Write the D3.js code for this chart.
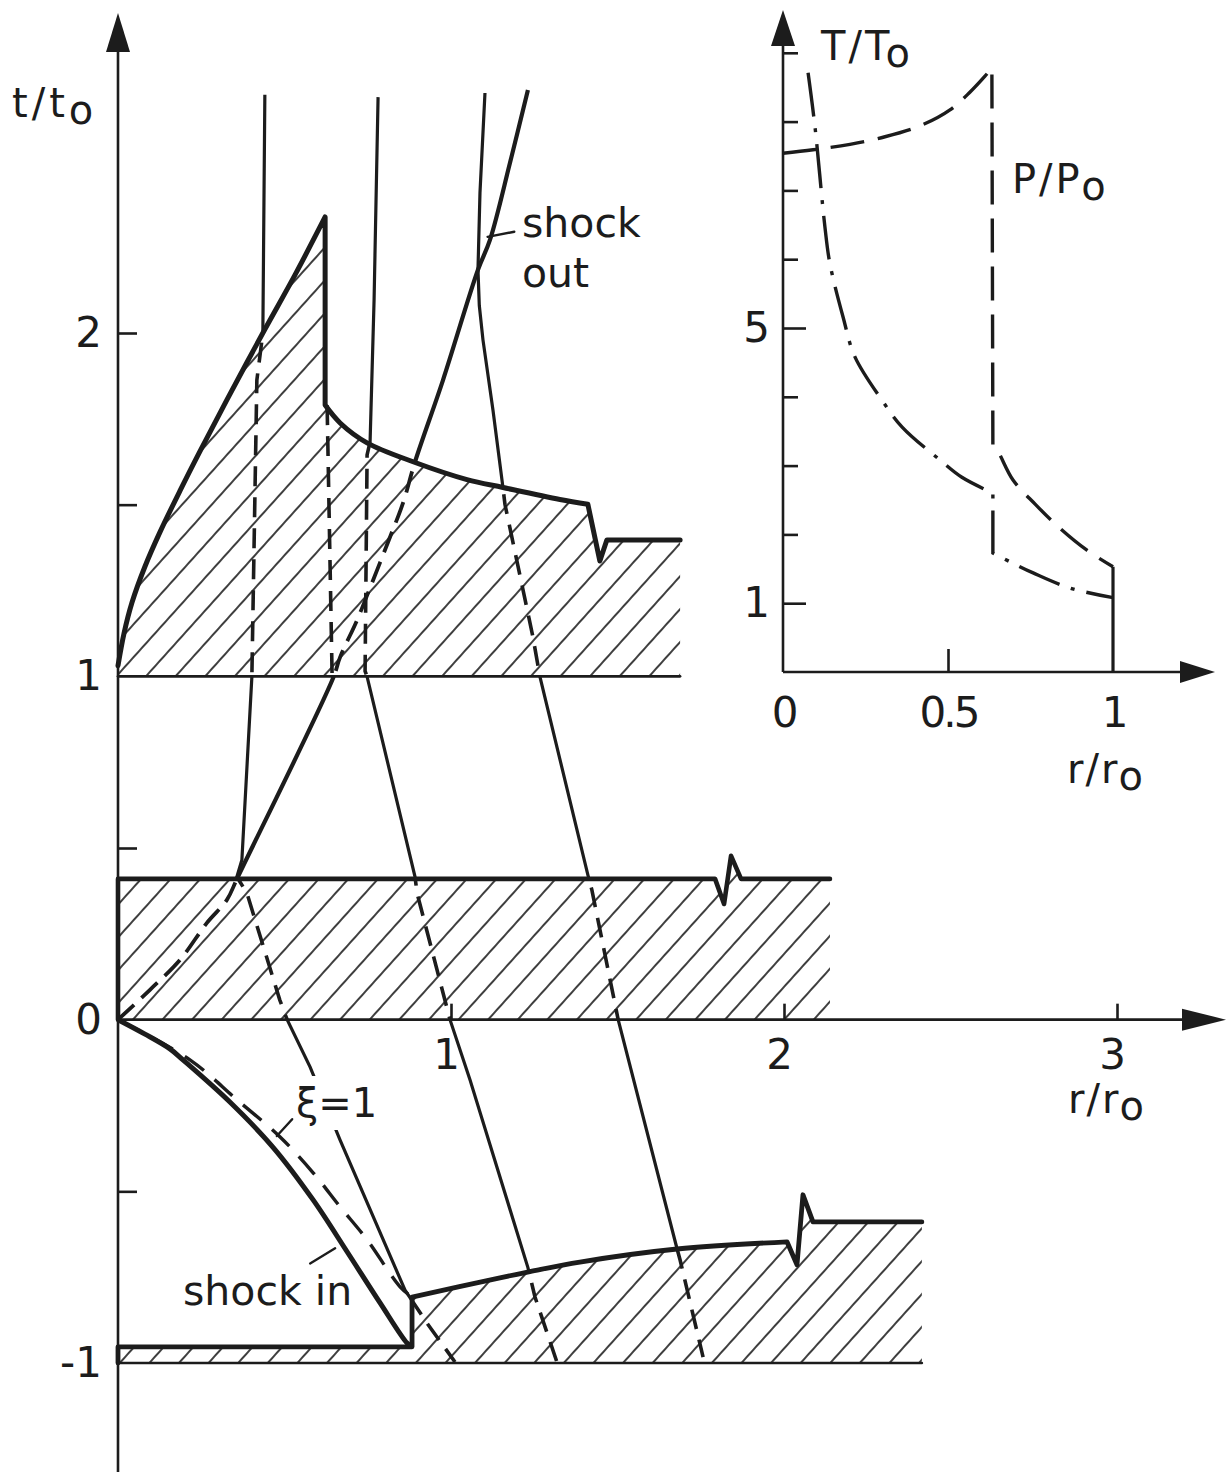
<!DOCTYPE html>
<html>
<head>
<meta charset="utf-8">
<title>r-t diagram, shock in / shock out</title>
<script src="https://cdn.jsdelivr.net/npm/d3@7"></script>
<style>
  body { margin: 0; background: #fff; }
  svg text { font-family: "DejaVu Sans", sans-serif; fill: #1c1c1c; }
</style>
</head>
<body>
<div id="container"></div>
<script>
/* CONSTANTS */
const width = 1228, height = 1472, ink = "#1c1c1c";

/* DATA : main diagram, every point is [r/r0, t/t0] */

// upper hatched zone (above t/t0 = 1)
const upperRise = [[0,1.031],[0.018,1.125],[0.042,1.215],[0.081,1.32],[0.126,1.42],[0.186,1.54],[0.246,1.655],[0.327,1.805],[0.435,2.0],[0.532,2.17],[0.622,2.338]];
const upperFall = [[0.622,1.79],[0.667,1.738],[0.748,1.68],[0.886,1.625],[1.048,1.573],[1.156,1.55],[1.327,1.515],[1.411,1.501]];
const upperTail = [[1.411,1.501],[1.447,1.336],[1.468,1.397],[1.688,1.397]];
const upperBase = [[1.688,1.0],[0,1.0]];

// middle hatched zone (0 .. 0.41)
const midTop  = [[0,0],[0,0.41],[1.793,0.41],[1.82,0.337],[1.841,0.477],[1.871,0.41],[2.138,0.41]];
const midBase = [[2.138,0],[0,0]];

// lower hatched zone (around t/t0 = -1)
const lowerStep = [[0,-1],[0,-0.953],[0.883,-0.953],[0.883,-0.808]];
const lowerRise = [[0.883,-0.808],[1.147,-0.752],[1.237,-0.734],[1.387,-0.706],[1.679,-0.668],[2.009,-0.647]];
const lowerTail = [[2.009,-0.647],[2.039,-0.714],[2.057,-0.51],[2.087,-0.589],[2.414,-0.589]];
const lowerBase = [[2.414,-1],[0,-1]];

// shock lines
const shockIn  = [[0,0],[0.081,-0.042],[0.156,-0.085],[0.195,-0.117],[0.336,-0.24],[0.465,-0.371],[0.586,-0.525],[0.688,-0.676],[0.787,-0.825],[0.868,-0.942],[0.883,-0.953]];
const xiOne    = [[0,0],[0.216,-0.117],[0.357,-0.233],[0.486,-0.341],[0.586,-0.446],[0.667,-0.545],[0.748,-0.641],[0.847,-0.778],[0.883,-0.808]];
const shockOut = [[0,0],[0.096,0.087],[0.186,0.174],[0.267,0.282],[0.327,0.349],[0.36,0.416],[0.646,0.995],[0.667,1.056],[0.718,1.164],[0.766,1.28],[0.817,1.406],[0.856,1.505],[0.892,1.625],[0.976,1.863],[1.081,2.184],[1.117,2.271],[1.177,2.495],[1.231,2.708]];

// particle paths (solid outside the hatching, dashed inside)
const pathA = [[0.441,2.694],[0.435,2.0],[0.417,1.863],[0.402,0.998],[0.372,0.465],[0.357,0.416],[0.387,0.369],[0.486,0.057],[0.508,0],[0.577,-0.138],[0.667,-0.351],[0.862,-0.788],[0.928,-0.884],[1.012,-0.997]];
const pathB = [[0.781,2.687],[0.769,2.096],[0.757,1.683],[0.748,1.645],[0.742,1.015],[0.748,0.999],[0.892,0.416],[0.898,0.369],[0.997,0],[1.057,-0.175],[1.231,-0.722],[1.252,-0.807],[1.318,-0.997]];
const pathC = [[1.102,2.699],[1.087,2.408],[1.081,2.184],[1.085,2.08],[1.096,1.98],[1.126,1.776],[1.156,1.55],[1.162,1.501],[1.246,1.115],[1.267,0.999],[1.411,0.422],[1.423,0.378],[1.502,0],[1.679,-0.668],[1.688,-0.7],[1.757,-0.983]];
const pathD = [[0.628,1.79],[0.643,1.0]];

// leaders for the annotations
const shockOutLeader = [[1.11,2.28],[1.19,2.295]];
const shockInLeader  = [[0.577,-0.71],[0.652,-0.666]];
const xiLeader       = [[0.477,-0.339],[0.523,-0.29]];

// axes
const tTicks  = [-0.5, 0.5, 1.5, 2];
const tLabels = [-1, 0, 1, 2];
const rTicks  = [1, 2, 3];

/* DATA : inset, points are [r/r0, value] */
const tempHot  = [[0.076,8.71],[0.097,7.92],[0.127,6.47],[0.142,5.94],[0.182,5.16],[0.218,4.58],[0.3,3.95],[0.361,3.56],[0.476,3.08],[0.542,2.83],[0.636,2.6]];
const tempDrop = [[0.636,2.6],[0.636,1.73]];
const tempCold = [[0.636,1.73],[0.697,1.58],[0.758,1.44],[0.87,1.22],[1.0,1.08]];
const pressIn   = [[0,7.54],[0.091,7.59],[0.203,7.67],[0.309,7.78],[0.421,7.95],[0.506,8.17],[0.567,8.43],[0.612,8.66],[0.633,8.78]];
const pressDrop = [[0.633,8.78],[0.636,3.3]];
const pressOut  = [[0.636,3.3],[0.652,3.2],[0.697,2.79],[0.764,2.44],[0.839,2.09],[0.921,1.77],[1.0,1.53]];
const surface   = [[1,0],[1,1.53]];
const insetTicks  = [2, 3, 4, 6, 7, 8, 9];
const insetLabels = [1, 5];
const insetRTicks = [0.5];
const insetRLabels = [0, 0.5, 1];


/* SCALES */
const x  = d3.scaleLinear().domain([0, 3]).range([118, 1117]);
const y  = d3.scaleLinear().domain([-1, 2]).range([1363, 333]);
const xi = d3.scaleLinear().domain([0, 1]).range([783, 1113]);
const yi = d3.scaleLinear().domain([0, 5]).range([672, 328]);

const CR = d3.curveCatmullRom, LIN = d3.curveLinear;

// several pieces -> one continuous path (keeps dashes running)
function joined(pieces, sx, sy) {
  return pieces.map(([pts, curve], i) => {
    const s = d3.line().x(d => sx(d[0])).y(d => sy(d[1])).curve(curve)(pts);
    return i ? s.replace(/^M/, "L") : s;
  }).join("");
}
const lineMain = d3.line().x(d => x(d[0])).y(d => y(d[1]));


/* SVG */
const svg = d3.select("#container")
  .append("svg")
  .attr("width", width)
  .attr("height", height);

svg.append("rect").attr("width", width).attr("height", height).attr("fill", "#fff");

const defs = svg.append("defs");

const pat = defs.append("pattern")
  .attr("id", "hatch")
  .attr("patternUnits", "userSpaceOnUse")
  .attr("width", 22).attr("height", 22)
  .attr("patternTransform", "rotate(42)");
pat.append("line")
  .attr("x1", 11).attr("y1", -2).attr("x2", 11).attr("y2", 24)
  .attr("stroke", ink).attr("stroke-width", 1.7);

const zones = [
  joined([[upperRise, CR], [upperFall, CR], [upperTail, LIN], [upperBase, LIN]], x, y) + "Z",
  joined([[midTop, LIN], [midBase, LIN]], x, y) + "Z",
  joined([[lowerStep, LIN], [lowerRise, CR], [lowerTail, LIN], [lowerBase, LIN]], x, y) + "Z"
];

const clip = defs.append("clipPath").attr("id", "inside");
zones.forEach(d => clip.append("path").attr("d", d));

const mask = defs.append("mask").attr("id", "outside")
  .attr("maskUnits", "userSpaceOnUse")
  .attr("x", 0).attr("y", 0).attr("width", width).attr("height", height);
mask.append("rect").attr("width", width).attr("height", height).attr("fill", "#fff");
zones.forEach(d => mask.append("path").attr("d", d).attr("fill", "#000"));

// HATCHING
svg.selectAll("path.zone")
  .data(zones)
  .join("path")
  .attr("class", "zone")
  .attr("d", d => d)
  .attr("fill", "url(#hatch)");

// PARTICLE PATHS
const gSolid  = svg.append("g").attr("mask", "url(#outside)");
const gDashed = svg.append("g").attr("clip-path", "url(#inside)");

[pathA, pathB, pathC, pathD].forEach(p => {
  gSolid.append("path")
    .attr("d", lineMain(p))
    .attr("fill", "none").attr("stroke", ink).attr("stroke-width", 3.2);
  gDashed.append("path")
    .attr("d", lineMain(p))
    .attr("fill", "none").attr("stroke", ink).attr("stroke-width", 3.6)
    .attr("stroke-dasharray", "20,11");
});

const lineSmooth = d3.line().x(d => x(d[0])).y(d => y(d[1])).curve(CR);

gSolid.append("path")
  .attr("d", lineSmooth(shockOut))
  .attr("fill", "none").attr("stroke", ink).attr("stroke-width", 4.2);
gDashed.append("path")
  .attr("d", lineSmooth(shockOut))
  .attr("fill", "none").attr("stroke", ink).attr("stroke-width", 3.8)
  .attr("stroke-dasharray", "22,10");

// xi = 1 line
svg.append("path")
  .attr("d", lineSmooth(xiOne))
  .attr("fill", "none").attr("stroke", ink).attr("stroke-width", 3.4)
  .attr("stroke-dasharray", "24,14");

// shock in
svg.append("path")
  .attr("d", lineSmooth(shockIn))
  .attr("fill", "none").attr("stroke", ink).attr("stroke-width", 5)
  .attr("stroke-linejoin", "round");

// BOUNDARIES
const thick = (d, w) => svg.append("path").attr("d", d)
  .attr("fill", "none").attr("stroke", ink).attr("stroke-width", w)
  .attr("stroke-linejoin", "round").attr("stroke-linecap", "round");

thick(joined([[upperRise, CR], [upperFall, CR], [upperTail, LIN]], x, y), 5);
thick(lineMain(upperBase), 2.6);
thick(lineMain(midTop), 4.6);
thick(joined([[lowerStep, LIN], [lowerRise, CR], [lowerTail, LIN]], x, y), 4.8);
thick(lineMain(lowerBase), 2.6);

// leaders
[shockOutLeader, shockInLeader, xiLeader].forEach(p => thick(lineMain(p), 2.4));

// MAIN AXES
const x0 = x(0), y0 = y(0);
svg.append("line").attr("x1", x0).attr("y1", height).attr("x2", x0).attr("y2", 48)
  .attr("stroke", ink).attr("stroke-width", 2.6);
svg.append("path").attr("d", `M${x0},13L${x0 - 12},52L${x0 + 12},52Z`).attr("fill", ink);
svg.append("line").attr("x1", x0).attr("y1", y0).attr("x2", 1186).attr("y2", y0)
  .attr("stroke", ink).attr("stroke-width", 2.6);
svg.append("path").attr("d", `M1226,${y0}L1182,${y0 - 11}L1182,${y0 + 11}Z`).attr("fill", ink);

const styleAxis = (g, fs) => {
  g.select(".domain").remove();
  g.attr("color", ink).attr("font-size", fs).attr("font-family", "DejaVu Sans, sans-serif");
  g.selectAll("line").attr("stroke-width", 2.6);
};

svg.append("g").attr("transform", `translate(${x0},0)`)
  .call(d3.axisLeft(y).tickValues(tTicks).tickSize(-19).tickFormat(""))
  .call(g => styleAxis(g, 42));
svg.append("g").attr("transform", `translate(${x0},0)`)
  .call(d3.axisLeft(y).tickValues(tLabels).tickSize(0).tickPadding(16).tickFormat(d => String(d)))
  .call(g => styleAxis(g, 42));

svg.append("g").attr("transform", `translate(0,${y0})`)
  .call(d3.axisBottom(x).tickValues(rTicks).tickSize(-16).tickFormat(""))
  .call(g => styleAxis(g, 42));
svg.append("g").attr("transform", `translate(0,${y0})`)
  .call(d3.axisBottom(x).tickValues(rTicks).tickSize(0).tickPadding(20).tickFormat(d => String(d)))
  .call(g => styleAxis(g, 42))
  .call(g => g.selectAll("text").attr("dx", -5));

// INSET
const xi0 = xi(0), yi0 = yi(0);
svg.append("line").attr("x1", xi0).attr("y1", yi0).attr("x2", xi0).attr("y2", 42)
  .attr("stroke", ink).attr("stroke-width", 2.6);
svg.append("path").attr("d", `M${xi0},10L${xi0 - 12},46L${xi0 + 12},46Z`).attr("fill", ink);
svg.append("line").attr("x1", xi0).attr("y1", yi0).attr("x2", 1184).attr("y2", yi0)
  .attr("stroke", ink).attr("stroke-width", 2.6);
svg.append("path").attr("d", `M1215,${yi0}L1180,${yi0 - 11}L1180,${yi0 + 11}Z`).attr("fill", ink);

svg.append("g").attr("transform", `translate(${xi0},0)`)
  .call(d3.axisLeft(yi).tickValues(insetTicks).tickSize(-15).tickFormat(""))
  .call(g => styleAxis(g, 42));
svg.append("g").attr("transform", `translate(${xi0},0)`)
  .call(d3.axisLeft(yi).tickValues(insetLabels).tickSize(-23).tickPadding(13).tickFormat(d => String(d)))
  .call(g => styleAxis(g, 42));
svg.append("g").attr("transform", `translate(0,${yi0})`)
  .call(d3.axisBottom(xi).tickValues(insetRTicks).tickSize(-23).tickFormat(""))
  .call(g => styleAxis(g, 42));
svg.append("g").attr("transform", `translate(0,${yi0})`)
  .call(d3.axisBottom(xi).tickValues(insetRLabels).tickSize(0).tickPadding(25).tickFormat(d => String(d)))
  .call(g => styleAxis(g, 42))
  .call(g => g.selectAll("text").attr("letter-spacing", -3));

svg.append("path")
  .attr("d", joined([[tempHot, CR], [tempDrop, LIN], [tempCold, CR]], xi, yi))
  .attr("fill", "none").attr("stroke", ink).attr("stroke-width", 3.4)
  .attr("stroke-dasharray", "44,12,4,12");
svg.append("path")
  .attr("d", joined([[pressIn, CR], [pressDrop, LIN], [pressOut, CR]], xi, yi))
  .attr("fill", "none").attr("stroke", ink).attr("stroke-width", 3.4)
  .attr("stroke-dasharray", "34,14");
svg.append("path")
  .attr("d", joined([[surface, LIN]], xi, yi))
  .attr("fill", "none").attr("stroke", ink).attr("stroke-width", 3.2);

// LABELS
const label = (px, py, main, sub, fs, ls) => {
  const t = svg.append("text").attr("x", px).attr("y", py)
    .attr("font-size", fs).attr("letter-spacing", ls || 0).text(main);
  if (sub) t.append("tspan").attr("dy", 7).text(sub);
  return t;
};

label(12, 117, "t/t", "o", 40, 4);
label(1068, 1113, "r/r", "o", 40, 2);
label(821, 60, "T/T", "o", 40, 3);
label(1012, 193, "P/P", "o", 40, 3);
label(1067, 783, "r/r", "o", 40, 2);
label(522, 237, "shock", null, 41);
label(522, 287, "out", null, 41);
label(183, 1305, "shock in", null, 41);
const xiText = label(296, 1117, "ξ=1", null, 40);

// gap in the particle path behind the ξ label
const bb = xiText.node().getBBox();
mask.append("rect")
  .attr("x", bb.x - 6).attr("y", bb.y - 4)
  .attr("width", bb.width + 12).attr("height", bb.height + 8)
  .attr("fill", "#000");
</script>
</body>
</html>
